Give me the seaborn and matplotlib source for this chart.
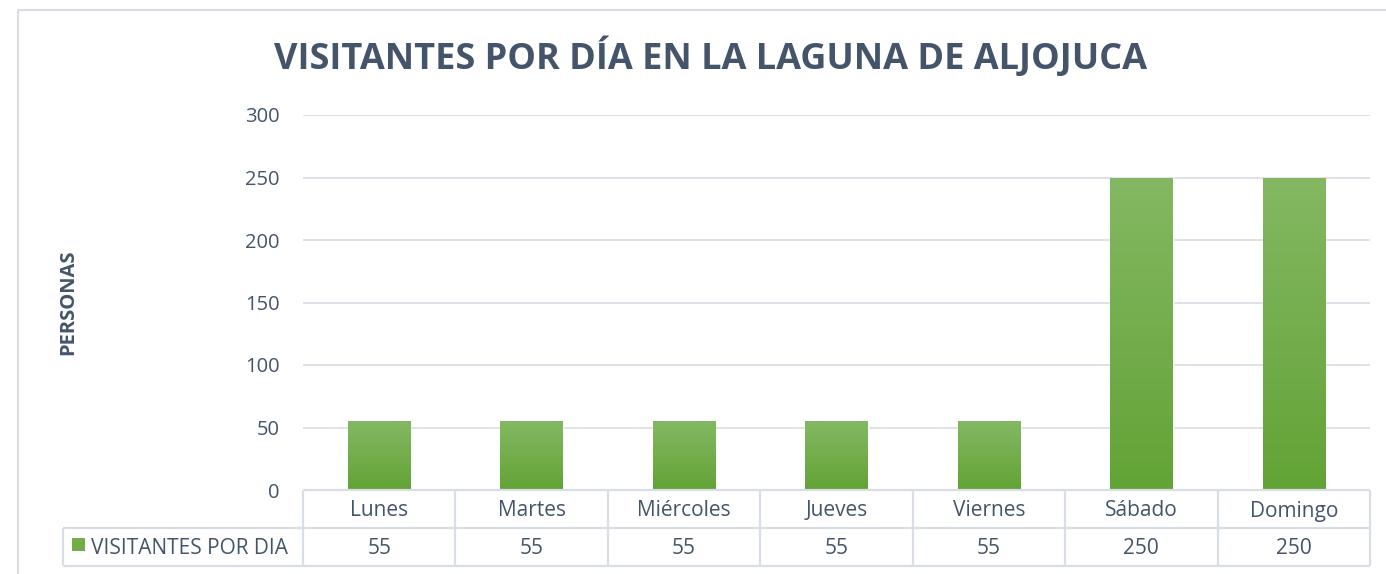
import matplotlib
matplotlib.use("Agg")
import matplotlib.pyplot as plt
import matplotlib.transforms as mtransforms
from matplotlib.colors import LinearSegmentedColormap
from matplotlib.patches import Rectangle
import seaborn as sns
import numpy as np
import pandas as pd

# ---- data ----
days = ["Lunes", "Martes", "Miércoles", "Jueves", "Viernes", "Sábado", "Domingo"]
visitors = [55, 55, 55, 55, 55, 250, 250]
series_name = "VISITANTES POR DIA"
title = "VISITANTES POR DÍA EN LA LAGUNA DE ALJOJUCA"
ylabel = "PERSONAS"
yticks = [0, 50, 100, 150, 200, 250, 300]

TEXT = "#44546a"
GRID = "#dde1e8"
LINE = "#d9dee6"
G_TOP = "#84b863"
G_BOT = "#62a335"

sns.set_theme(style="white")
plt.rcParams['font.family'] = ['Open Sans', 'DejaVu Sans']

W, H = 1386, 574
fig = plt.figure(figsize=(W / 100, H / 100), dpi=100)
fig.patch.set_facecolor("white")


def fx(px):
    return px / W


def fy(py):
    return 1 - py / H


ax = fig.add_axes([fx(303), fy(490), fx(1370) - fx(303), fy(115) - fy(490)])
df = pd.DataFrame({"day": days, "v": visitors})
sns.barplot(data=df, x="day", y="v", ax=ax, color=G_BOT, width=0.41,
            saturation=1, errorbar=None)

# gradient fill clipped to each bar
grad = np.linspace(0, 1, 256).reshape(-1, 1)
cmap = LinearSegmentedColormap.from_list("g", [G_BOT, G_TOP])
for p in list(ax.patches):
    x0, y0 = p.get_x(), p.get_y()
    w, h = p.get_width(), p.get_height()
    im = ax.imshow(grad, cmap=cmap, extent=[x0, x0 + w, y0, y0 + h],
                   origin="lower", aspect="auto", zorder=p.get_zorder() + 0.1)
    im.set_clip_path(p)

ax.set_xlim(-0.5, len(days) - 0.5)
ax.set_ylim(0, 300)
ax.set_yticks(yticks)
ax.set_yticklabels([str(t) for t in yticks])
ax.yaxis.grid(True, color=GRID, lw=1.4)
ax.set_axisbelow(True)
for s in ax.spines.values():
    s.set_visible(False)
ax.tick_params(axis="y", length=0, pad=17, labelsize=14.5, labelcolor=TEXT)
ax.set_xticks([])
ax.set_xlabel("")
ax.set_ylabel("")

# ---- data table below the axis ----
axh = 490 - 115
row1 = -(528 - 490) / axh
row2 = -(566 - 490) / axh
nudge = -2 / axh
left_cell = (63 - 303) / (1370 - 303)
bt = mtransforms.blended_transform_factory(ax.transData, ax.transAxes)
kw = dict(color=LINE, lw=1.6, clip_on=False, solid_capstyle="butt")
ax.plot([0, 1], [0, 0], transform=ax.transAxes, **kw)
ax.plot([left_cell, 1], [row1, row1], transform=ax.transAxes, **kw)
ax.plot([left_cell, 1], [row2, row2], transform=ax.transAxes, **kw)
ax.plot([left_cell, left_cell], [row1, row2], transform=ax.transAxes, **kw)
for i in range(len(days) + 1):
    ax.plot([i - 0.5, i - 0.5], [0, row2], transform=bt, **kw)

for i, (d, v) in enumerate(zip(days, visitors)):
    ax.text(i, row1 / 2 + nudge, d, transform=bt, ha="center", va="center",
            fontsize=15, color=TEXT)
    ax.text(i, (row1 + row2) / 2 + nudge, str(v), transform=bt, ha="center",
            va="center", fontsize=15, color=TEXT)

# legend key in table
fig.patches.append(Rectangle((fx(72), fy(551)), fx(13), fy(538) - fy(551),
                             transform=fig.transFigure, facecolor="#72ad47",
                             edgecolor="none"))
fig.text(fx(91), fy(549), series_name, ha="left", va="center", fontsize=15,
         color=TEXT)

# title and y label
fig.text(fx(710), fy(58), title, ha="center", va="center", fontsize=26,
         fontweight="bold", color=TEXT)
fig.text(fx(68), fy(302), ylabel, ha="center", va="center", rotation=90,
         fontsize=14.5, fontweight="bold", color=TEXT)

# outer chart border
fig.patches.append(Rectangle((fx(18), fy(600)), fx(1400) - fx(18), fy(10) - fy(600),
                             transform=fig.transFigure, facecolor="none",
                             edgecolor=LINE, lw=1.5))

fig.savefig("out.png", dpi=100)
